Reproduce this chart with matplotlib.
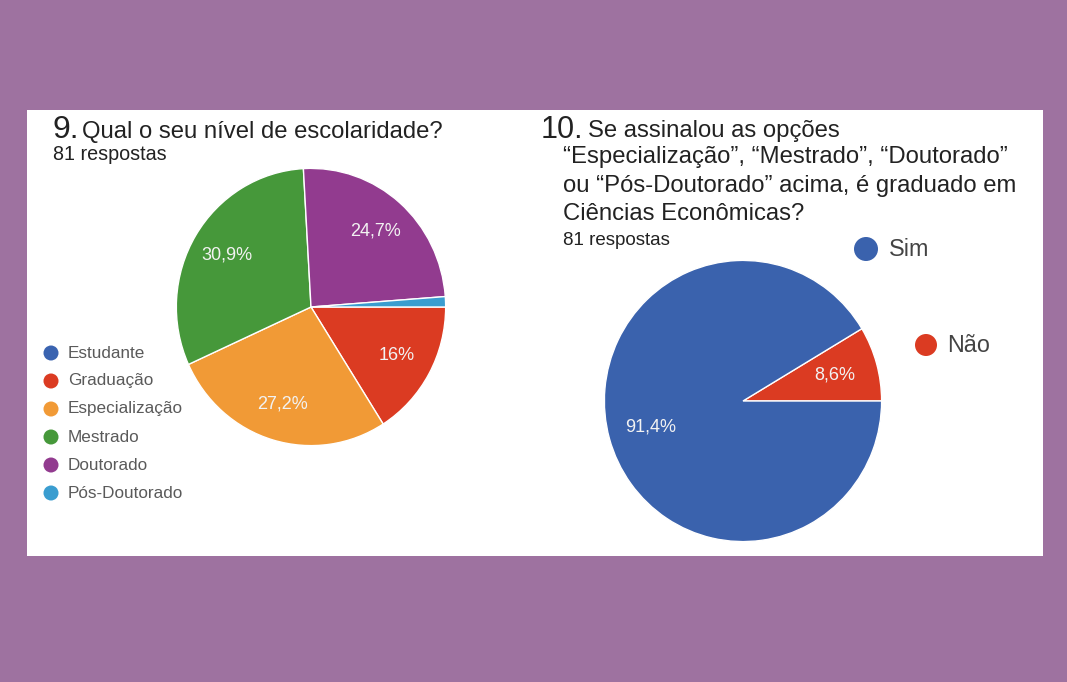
import matplotlib
matplotlib.use("Agg")
from matplotlib import pyplot as plt
from matplotlib.patches import Rectangle, Ellipse

plt.rcParams['font.family'] = ['Liberation Sans', 'DejaVu Sans']

# question 9 data (percent of 81 answers)
esc_labels = ["Estudante", "Graduação", "Especialização", "Mestrado", "Doutorado", "Pós-Doutorado"]
esc_pct = [0.0, 16.0, 27.2, 30.9, 24.7, 1.2]
esc_colors = ["#3a63b0", "#db3b22", "#f19a36", "#46983a", "#923b8f", "#3a9dd0"]

# question 10 data
grad_labels = ["Não", "Sim"]
grad_pct = [8.6, 91.4]
grad_colors = ["#db3b22", "#3a62ad"]

W, H = 1067, 682
fig = plt.figure(figsize=(W/100, H/100), dpi=100)
fig.patch.set_facecolor("#9e72a0")

# pixel-coordinate background axes
bg = fig.add_axes([0, 0, 1, 1])
bg.set_xlim(0, W)
bg.set_ylim(H, 0)
bg.axis("off")
bg.add_patch(Rectangle((27, 110), 1016, 446, facecolor="white", edgecolor="none"))


def pct_fmt(p):
    if p < 1.5:
        return ""
    s = f"{p:.1f}".replace(".", ",")
    if s.endswith(",0"):
        s = s[:-2]
    return s + "%"


def pie_axes(cx, cy, rx, ry):
    ax = fig.add_axes([(cx-rx)/W, (H-cy-ry)/H, 2*rx/W, 2*ry/H])
    return ax


# ---------- question 9 ----------
bg.text(52, 138, "9.", fontsize=23, color="#222222")
bg.text(82, 138, "Qual o seu nível de escolaridade?", fontsize=17.2, color="#222222")
bg.text(53, 160, "81 respostas", fontsize=14.2, color="#222222")

ax1 = pie_axes(311, 307, 136, 140)
w, t, at = ax1.pie(esc_pct, colors=esc_colors, startangle=0, counterclock=False,
                   autopct=pct_fmt, pctdistance=0.73,
                   wedgeprops=dict(edgecolor="white", linewidth=1))
for a in at:
    a.set_color("#f2f2f2")
    a.set_fontsize(13)
ax1.set_aspect("auto")
ax1.set_xlim(-1.01, 1.01)
ax1.set_ylim(-1.01, 1.01)

for i, lab in enumerate(esc_labels):
    y = 353 + 28*i
    bg.add_patch(Ellipse((51, y), 15, 15, facecolor=esc_colors[i], edgecolor="none"))
    bg.text(68, y, lab, fontsize=12.3, color="#5a5a5a", va="center")

# ---------- question 10 ----------
bg.text(541, 138, "10.", fontsize=22, color="#222222")
bg.text(588, 137.5, "Se assinalou as opções", fontsize=17.2, color="#222222")
lines = ["“Especialização”, “Mestrado”, “Doutorado”",
         "ou “Pós-Doutorado” acima, é graduado em",
         "Ciências Econômicas?"]
for i, ln in enumerate(lines):
    bg.text(563, 163.5 + 28.5*i, ln, fontsize=17.2, color="#222222")
r = bg.text(563, 245, "81 respostas", fontsize=13.5, color="#222222")
r.set_clip_path(Rectangle((540, 220), 200, 24, transform=bg.transData))

ax2 = pie_axes(743, 401, 140, 142)
w2, t2, at2 = ax2.pie(grad_pct, colors=grad_colors, startangle=0, counterclock=True,
                      autopct=pct_fmt, pctdistance=0.69,
                      wedgeprops=dict(edgecolor="white", linewidth=1))
for a in at2:
    a.set_color("#f2f2f2")
    a.set_fontsize(13)
ax2.set_aspect("auto")
ax2.set_xlim(-1.01, 1.01)
ax2.set_ylim(-1.01, 1.01)

# legend on the right
bg.add_patch(Ellipse((866, 249), 24, 24, facecolor=grad_colors[1], edgecolor="none"))
bg.text(889, 249, grad_labels[1], fontsize=16.8, color="#444444", va="center")
bg.add_patch(Ellipse((926, 345), 22, 22, facecolor=grad_colors[0], edgecolor="none"))
bg.text(947, 345, grad_labels[0], fontsize=16.8, color="#444444", va="center")

fig.savefig("out.png", dpi=100, facecolor=fig.get_facecolor())
